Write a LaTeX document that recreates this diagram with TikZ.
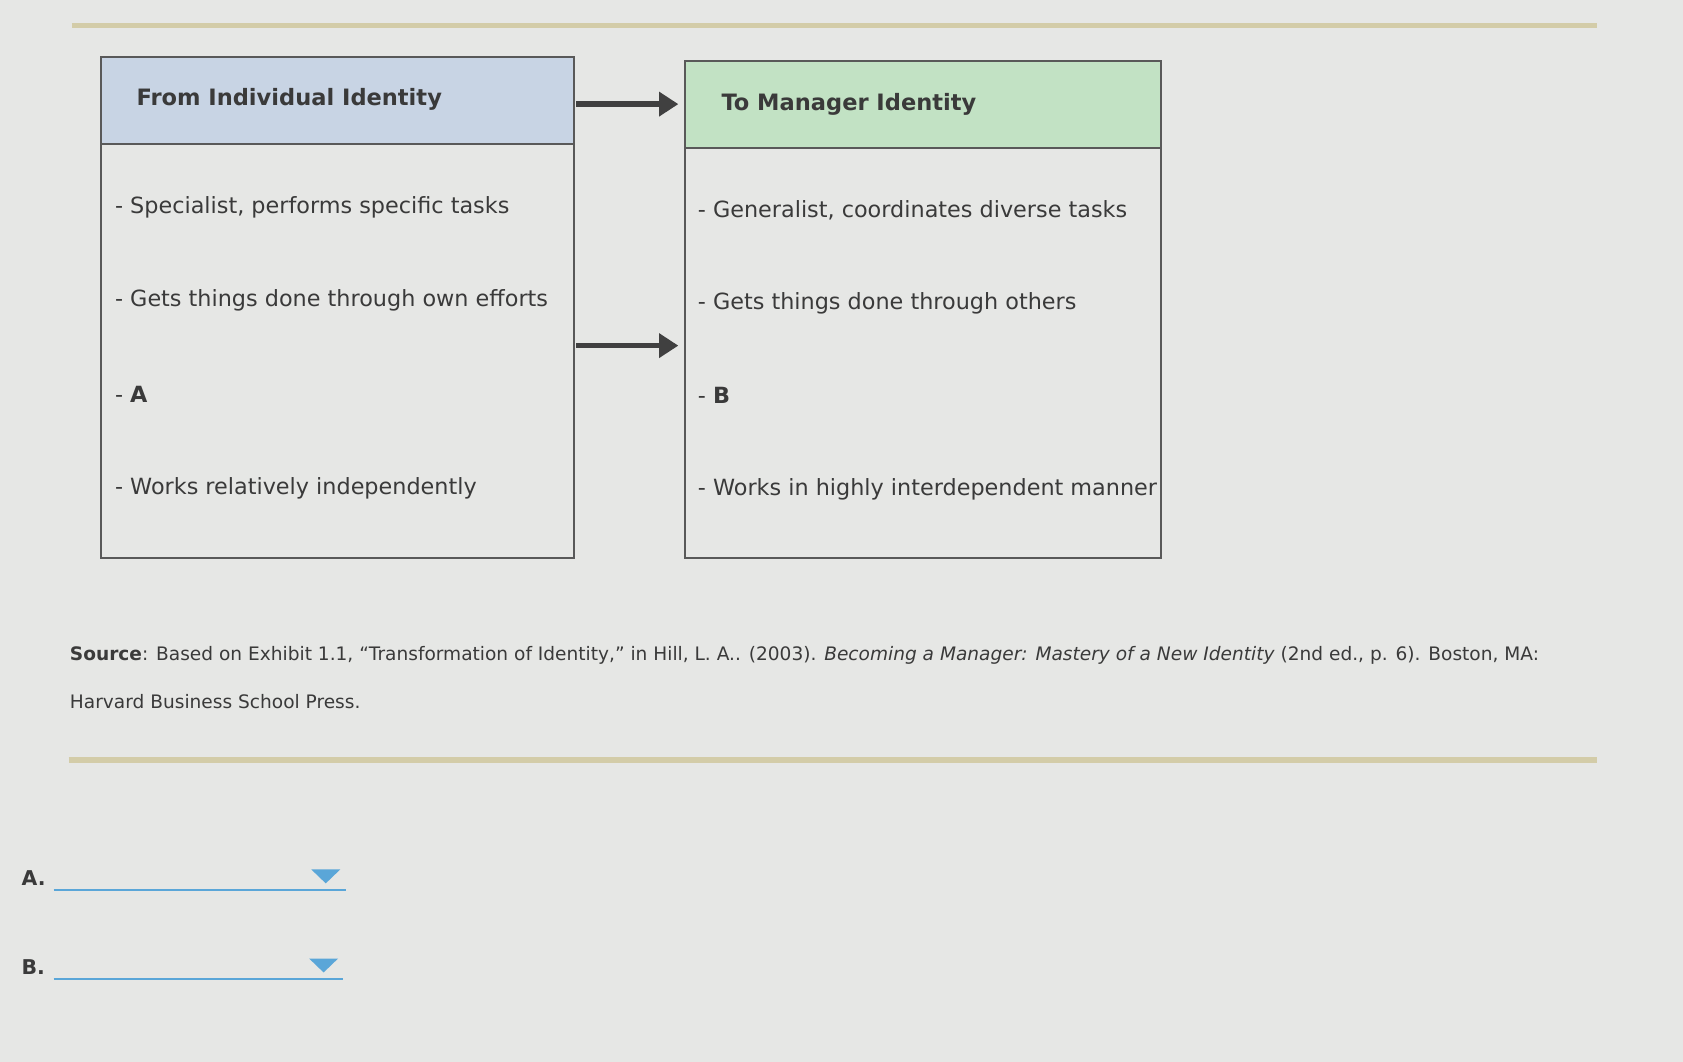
\documentclass[tikz,border=0pt]{standalone}
\usepackage{fontspec}
\setmainfont{DejaVu Sans}
\usetikzlibrary{arrows.meta}
\definecolor{bg}{HTML}{E6E7E5}
\definecolor{tan}{HTML}{D3CCA8}
\definecolor{hblue}{HTML}{C8D4E4}
\definecolor{hgreen}{HTML}{C2E2C4}
\definecolor{txt}{HTML}{3A3A3A}
\definecolor{ablue}{HTML}{5AA6D8}
\tikzset{
 item/.style={anchor=west,font=\fontsize{20.8}{22}\selectfont,text=txt,inner sep=0},
 head/.style={anchor=west,font=\fontsize{21}{22}\selectfont\bfseries,text=txt,inner sep=0},
 boxline/.style={draw=black!65,line width=2pt},
 arr/.style={draw=black!75,line width=5pt,-{Triangle[length=18pt,width=22pt]}},
 rule/.style={draw=tan,line width=5pt},
 src/.style={anchor=west,font=\fontsize{17.3}{19}\selectfont,text=txt,inner sep=0},
 lab/.style={anchor=west,font=\fontsize{19}{20}\selectfont\bfseries,text=txt,inner sep=0},
}
\begin{document}
\begin{tikzpicture}[x=1pt,y=-1pt]
\fill[bg] (0,0) rectangle (1568,989);
\useasboundingbox (0,0) rectangle (1568,989);
\draw[rule] (67,24) -- (1488,24);
\draw[rule] (64,708) -- (1488,708);
% left box
\fill[hblue] (94,53) rectangle (535,134);
\draw[boxline] (94,53) rectangle (535,520);
\draw[boxline] (94,134) -- (535,134);
% right box
\fill[hgreen] (638,57) rectangle (1082,138);
\draw[boxline] (638,57) rectangle (1082,520);
\draw[boxline] (638,138) -- (1082,138);
\node[head] (lh) at (127,93) {From Individual Identity};
\node[head] (rh) at (672,97) {To Manager Identity};
\node[item] (l1) at (107,193) {- Specialist, performs specific tasks};
\node[item] (l2) at (107,280) {- Gets things done through own efforts};
\node[item] (l3) at (107,367) {- \textbf{A}};
\node[item] (l4) at (107,455) {- Works relatively independently};
\node[item] (r1) at (650,196) {- Generalist, coordinates diverse tasks};
\node[item] (r2) at (650,283) {- Gets things done through others};
\node[item] (r3) at (650,368) {- \textbf{B}};
\node[item] (r4) at (650,456) {- Works in highly interdependent manner};
\coordinate (a1s) at (537,97); \coordinate (a1e) at (632,97);
\coordinate (a2s) at (537,322); \coordinate (a2e) at (632,322);
\draw[arr] (a1s) -- (a1e);
\draw[arr] (a2s) -- (a2e);
\node[src] (s1) at (65,611) {\textbf{Source}: Based on Exhibit 1.1, “Transformation of Identity,” in Hill, L. A.. (2003). \textit{Becoming a Manager: Mastery of a New Identity} (2nd ed., p. 6). Boston, MA:};
\node[src] (s2) at (65,654) {Harvard Business School Press.};
\node[lab] (qa) at (20,818) {A.};
\node[lab] (qb) at (20,901) {B.};
\draw[ablue,line width=2pt] (50,829) -- (322,829);
\draw[ablue,line width=2pt] (50,912) -- (320,912);
\fill[ablue] (290,810) -- (317,810) -- (303.5,823) -- cycle;
\fill[ablue] (288,893) -- (315,893) -- (301.5,906) -- cycle;
\end{tikzpicture}
\end{document}
